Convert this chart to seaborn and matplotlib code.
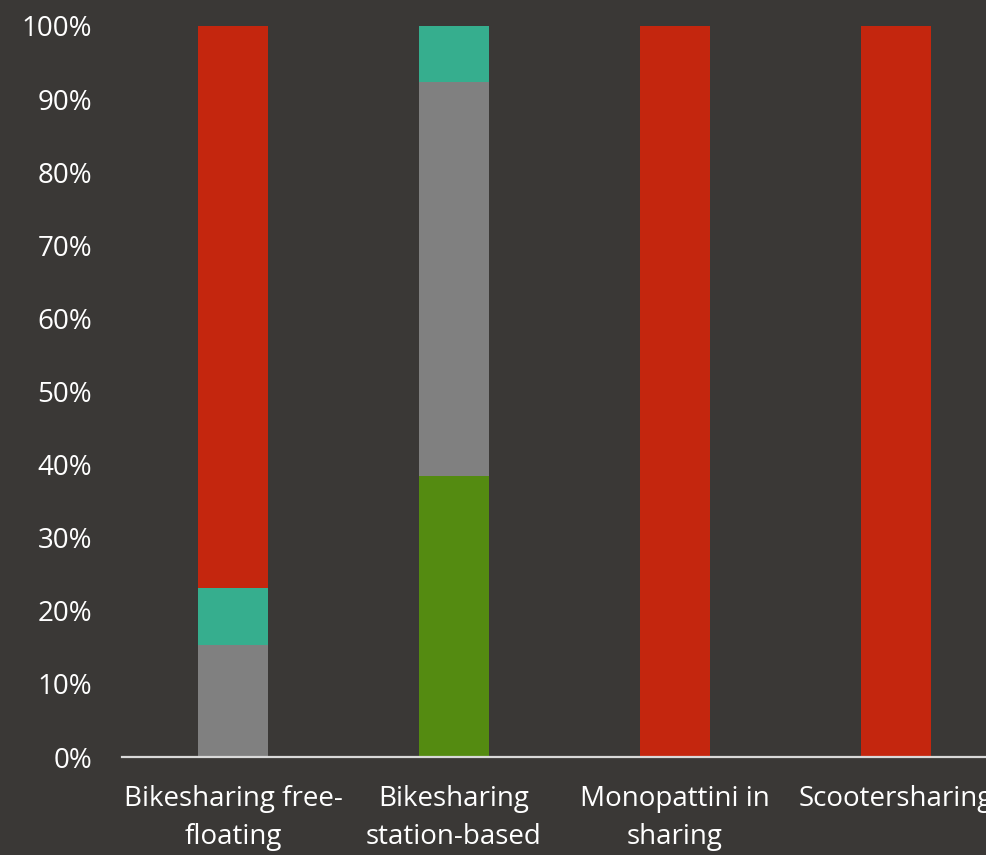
import numpy as np
import pandas as pd
import matplotlib
matplotlib.use("Agg")
import matplotlib.pyplot as plt
import seaborn as sns
from matplotlib.ticker import PercentFormatter

# Mobility services and the share (%) of each response group, stacked bottom-up
categories = ["Bikesharing free-\nfloating", "Bikesharing\nstation-based",
              "Monopattini in\nsharing", "Scootersharing"]
series_names = ["verde", "grigio", "turchese", "rosso"]
verde = [0.0, 38.46, 0.0, 0.0]
grigio = [15.38, 53.85, 0.0, 0.0]
turchese = [7.69, 7.69, 0.0, 0.0]
rosso = [76.93, 0.0, 100.0, 100.0]
series_colors = ["#548B11", "#808080", "#36AE8E", "#C4260E"]

bg = "#3A3836"

sns.set_theme(style="white")
plt.rcParams["font.family"] = ["Open Sans", "DejaVu Sans"]

df = pd.DataFrame({"categoria": categories, "verde": verde, "grigio": grigio,
                   "turchese": turchese, "rosso": rosso})
stack = df[series_names].cumsum(axis=1)

fig = plt.figure(figsize=(9.86, 8.55), dpi=100, facecolor=bg)
ax = fig.add_axes([0.1242, 0.1146, 0.8966, 0.855])
ax.set_facecolor(bg)

# Draw cumulative totals from the top layer down so each segment shows its own band
for name, color in zip(reversed(series_names), reversed(series_colors)):
    sns.barplot(x=df["categoria"], y=stack[name], color=color, width=0.317,
                saturation=1, linewidth=0, ax=ax, zorder=2)

ax.set_ylim(0, 100)
ax.set_xlim(-0.5, len(categories) - 0.5)
ax.set_yticks(np.arange(0, 101, 10))
ax.yaxis.set_major_formatter(PercentFormatter(decimals=0))
ax.set_xlabel("")
ax.set_ylabel("")

for side in ["top", "right", "left"]:
    ax.spines[side].set_visible(False)
ax.spines["bottom"].set_color("#D9D9D9")
ax.spines["bottom"].set_linewidth(1.6)
ax.spines["bottom"].set_zorder(3)

ax.tick_params(axis="y", length=0, pad=22, labelsize=20, labelcolor="white")
ax.tick_params(axis="x", length=0, pad=20, labelsize=20, labelcolor="white")
for lbl in ax.get_xticklabels():
    lbl.set_linespacing(1.5)
    lbl.set_horizontalalignment("center")

fig.savefig("out.png", dpi=100, facecolor=bg)
